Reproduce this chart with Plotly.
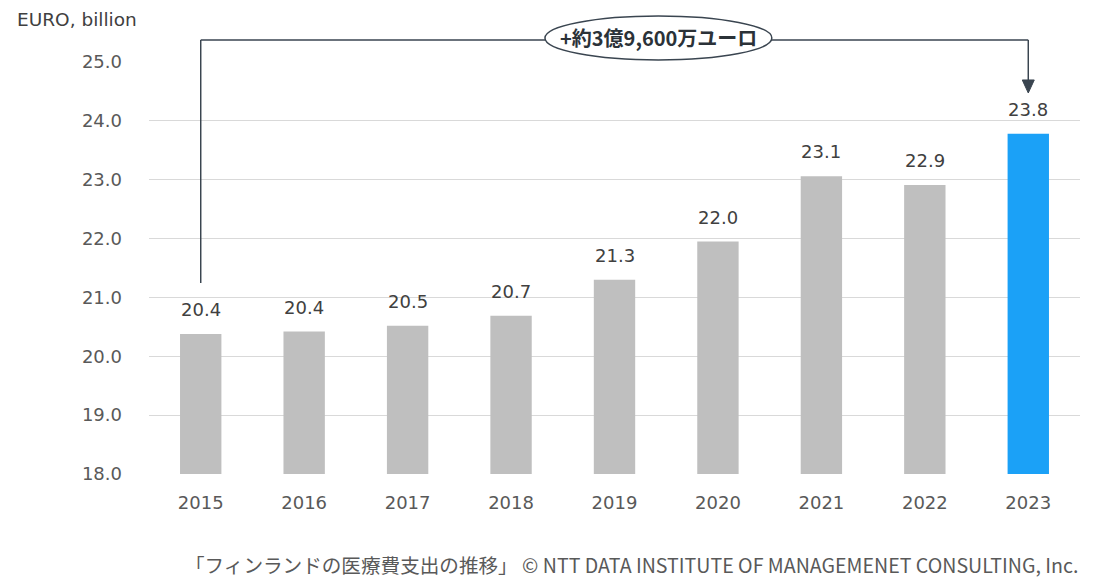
import plotly.graph_objects as go

years = ["2015", "2016", "2017", "2018", "2019", "2020", "2021", "2022", "2023"]
values = [20.38, 20.42, 20.52, 20.69, 21.30, 21.95, 23.06, 22.91, 23.78]
labels = ["20.4", "20.4", "20.5", "20.7", "21.3", "22.0", "23.1", "22.9", "23.8"]
colors = ["#bfbfbf"] * 8 + ["#1ba1f7"]
y_ticks = [18, 19, 20, 21, 22, 23, 24, 25]
y_tick_text = ["18.0", "19.0", "20.0", "21.0", "22.0", "23.0", "24.0", "25.0"]
callout_text = "+約3億9,600万ユーロ"
unit_text = "EURO, billion"
source_text = "「フィンランドの医療費支出の推移」 © NTT DATA INSTITUTE OF MANAGEMENET CONSULTING, Inc."

FONT = "DejaVu Sans"
LINE = "#3a4550"

fig = go.Figure()
fig.add_trace(go.Bar(x=years, y=values, marker=dict(color=colors, line=dict(width=0)),
                     hoverinfo="skip"))

for i, (v, t) in enumerate(zip(values, labels)):
    fig.add_annotation(x=i, y=v, text=t, showarrow=False, yanchor="bottom", yshift=12,
                       font=dict(family=FONT, size=18, color="#404040"))

first = 0
last = len(years) - 1
top_y = 1.0534
tip_y = 0.9248
# bracket
fig.add_shape(type="line", xref="x", yref="paper", x0=first, x1=first,
              y0=0.4636, y1=top_y, line=dict(color=LINE, width=1.5))
fig.add_shape(type="line", xref="x", yref="paper", x0=first, x1=last,
              y0=top_y, y1=top_y, line=dict(color=LINE, width=1.5))
fig.add_shape(type="line", xref="x", yref="paper", x0=last, x1=last,
              y0=top_y, y1=tip_y + 12 / 412, line=dict(color=LINE, width=1.5))
fig.add_shape(type="path", xref="x", yref="paper", xsizemode="pixel", ysizemode="pixel",
              xanchor=last, yanchor=tip_y, path="M -6 13 L 6 13 L 0 0 Z",
              fillcolor=LINE, line=dict(color=LINE, width=1))
fig.add_shape(type="circle", xref="paper", yref="paper", x0=0.4253, x1=0.669,
              y0=1.0049, y1=1.1117, fillcolor="white", line=dict(color=LINE, width=1.5))
fig.add_annotation(x=0.5472, y=1.0595, xref="paper", yref="paper", text="<b>" + callout_text + "</b>",
                   showarrow=False, xanchor="center", yanchor="middle",
                   font=dict(family="Noto Sans CJK JP", size=20, color="#2b3238"))

fig.add_annotation(x=-0.144, y=1.102, xref="paper", yref="paper", text=unit_text,
                   showarrow=False, xanchor="left", yanchor="middle",
                   font=dict(family=FONT, size=18.5, color="#404040"))
fig.add_annotation(x=1.0, y=-0.22, xref="paper", yref="paper", text=source_text,
                   showarrow=False, xanchor="right", yanchor="middle",
                   font=dict(family="Noto Sans CJK JP", size=19.6, color="#595959"))

fig.update_layout(
    width=1104, height=586,
    margin=dict(l=149, r=24, t=62, b=112),
    paper_bgcolor="white", plot_bgcolor="white",
    bargap=0.6, showlegend=False,
    xaxis=dict(type="category", range=[-0.5, 8.5], showgrid=False, showline=False, ticks="",
               tickfont=dict(family=FONT, size=18, color="#595959"), ticklabelstandoff=16),
    yaxis=dict(range=[18, 25], tickvals=y_ticks, ticktext=y_tick_text, showgrid=True,
               gridcolor="#d9d9d9", gridwidth=1.3, zeroline=False, showline=False, ticks="",
               tickfont=dict(family=FONT, size=18, color="#595959"), ticklabelstandoff=26),
)
fig.write_html("out.html", config={"displayModeBar": False},
               post_script="document.body.style.margin='0';")
